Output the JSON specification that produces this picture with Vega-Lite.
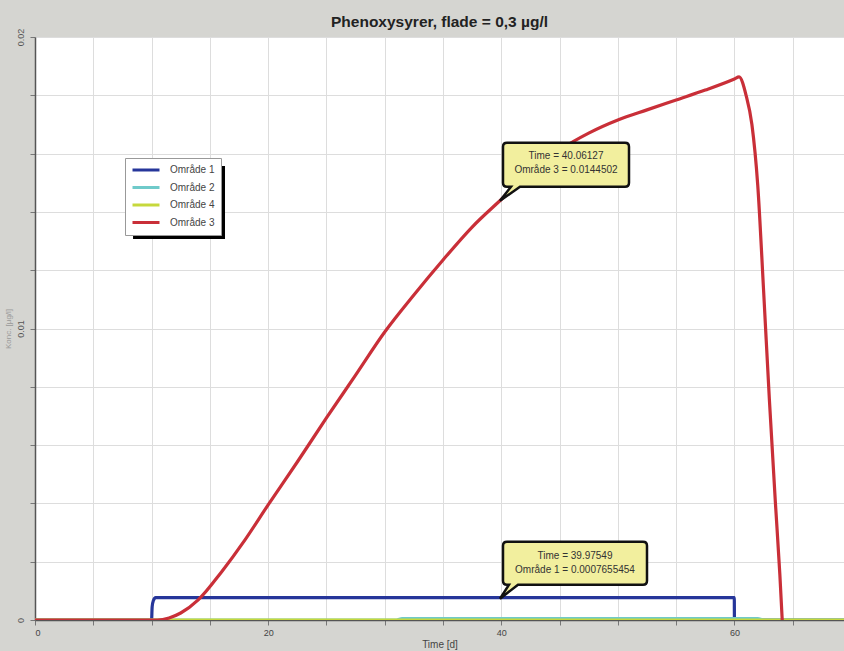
{
  "$schema": "https://vega.github.io/schema/vega-lite/v6.json",
  "width": 809,
  "height": 583,
  "autosize": {"type": "none"},
  "padding": {"left": 35, "top": 37, "right": 0, "bottom": 31},
  "background": "#d5d5d1",
  "title": {
    "text": "Phenoxysyrer, flade = 0,3 µg/l",
    "font": "Liberation Sans",
    "fontSize": 15.5,
    "fontWeight": "bold",
    "color": "#222222",
    "anchor": "middle",
    "baseline": "bottom",
    "offset": -17
  },
  "config": {
    "view": {"fill": "white", "stroke": null},
    "font": "Liberation Sans"
  },
  "datasets": {
    "series": [
      {"serie": "Område 1", "t": 0, "v": 0},
      {"serie": "Område 1", "t": 10.0, "v": 0},
      {"serie": "Område 1", "t": 10.05, "v": 0.00045},
      {"serie": "Område 1", "t": 10.15, "v": 0.00066},
      {"serie": "Område 1", "t": 10.35, "v": 0.000766},
      {"serie": "Område 1", "t": 39.97549, "v": 0.0007655454},
      {"serie": "Område 1", "t": 59.99, "v": 0.000766},
      {"serie": "Område 1", "t": 60.0, "v": 0},
      {"serie": "Område 1", "t": 69.4, "v": 0},
      {"serie": "Område 2", "t": 0, "v": 0},
      {"serie": "Område 2", "t": 31, "v": 0},
      {"serie": "Område 2", "t": 31.5, "v": 0.00005},
      {"serie": "Område 2", "t": 62, "v": 0.00005},
      {"serie": "Område 2", "t": 62.5, "v": 0},
      {"serie": "Område 2", "t": 69.4, "v": 0},
      {"serie": "Område 4", "t": 0, "v": 0},
      {"serie": "Område 4", "t": 69.4, "v": 0},
      {"serie": "Område 3", "t": 0, "v": 0},
      {"serie": "Område 3", "t": 10.5, "v": 0},
      {"serie": "Område 3", "t": 11.5, "v": 0.00007},
      {"serie": "Område 3", "t": 12.5, "v": 0.00024},
      {"serie": "Område 3", "t": 14, "v": 0.00069},
      {"serie": "Område 3", "t": 16, "v": 0.00165},
      {"serie": "Område 3", "t": 18, "v": 0.00274},
      {"serie": "Område 3", "t": 20, "v": 0.00395},
      {"serie": "Område 3", "t": 22.5, "v": 0.00542},
      {"serie": "Område 3", "t": 25, "v": 0.00693},
      {"serie": "Område 3", "t": 27.5, "v": 0.0084},
      {"serie": "Område 3", "t": 30, "v": 0.00988},
      {"serie": "Område 3", "t": 32.5, "v": 0.01115},
      {"serie": "Område 3", "t": 35, "v": 0.01235},
      {"serie": "Område 3", "t": 37.5, "v": 0.01348},
      {"serie": "Område 3", "t": 40.06127, "v": 0.0144502},
      {"serie": "Område 3", "t": 42.5, "v": 0.01537},
      {"serie": "Område 3", "t": 45, "v": 0.01612},
      {"serie": "Område 3", "t": 47.5, "v": 0.0167},
      {"serie": "Område 3", "t": 50, "v": 0.01715},
      {"serie": "Område 3", "t": 52.5, "v": 0.0175},
      {"serie": "Område 3", "t": 55, "v": 0.01784},
      {"serie": "Område 3", "t": 57.5, "v": 0.01818},
      {"serie": "Område 3", "t": 60, "v": 0.01856},
      {"serie": "Område 3", "t": 60.4, "v": 0.01863},
      {"serie": "Område 3", "t": 61, "v": 0.018},
      {"serie": "Område 3", "t": 61.5, "v": 0.017},
      {"serie": "Område 3", "t": 62, "v": 0.01492},
      {"serie": "Område 3", "t": 62.5, "v": 0.01132},
      {"serie": "Område 3", "t": 63, "v": 0.00755},
      {"serie": "Område 3", "t": 63.5, "v": 0.00412},
      {"serie": "Område 3", "t": 63.9, "v": 0.00154},
      {"serie": "Område 3", "t": 64.1, "v": 0}
    ],
    "callouts": [
      {"serie": "Område 3", "t": 40.06127, "v": 0.0144502},
      {"serie": "Område 1", "t": 39.97549, "v": 0.0007655454}
    ]
  },
  "layer": [
    {
      "description": "drop shadow behind the legend box",
      "data": {"values": [{}]},
      "mark": {"type": "rect", "color": "#000000", "opacity": 1},
      "encoding": {
        "x": {"datum": 8.41, "type": "quantitative"},
        "x2": {"datum": 16.3},
        "y": {"datum": 0.015575, "type": "quantitative"},
        "y2": {"datum": 0.01307}
      }
    },
    {
      "data": {"name": "series"},
      "mark": {"type": "line", "strokeWidth": 3.2, "interpolate": "monotone", "clip": true},
      "encoding": {
        "x": {
          "field": "t",
          "type": "quantitative",
          "scale": {"domain": [0, 69.4], "nice": false, "zero": false},
          "axis": {
            "title": "Time [d]",
            "titleFontSize": 10,
            "titleFontWeight": "normal",
            "titleColor": "#444444",
            "titlePadding": 2,
            "values": [0, 5, 10, 15, 20, 25, 30, 35, 40, 45, 50, 55, 60, 65],
            "labelExpr": "datum.value % 20 == 0 ? datum.label : ''",
            "labelFontSize": 9,
            "labelColor": "#444444",
            "labelPadding": 3,
            "tickSize": 5,
            "tickColor": "#777777",
            "domainColor": "#555555",
            "domainWidth": 1.5,
            "grid": true,
            "gridColor": "#dddddd"
          }
        },
        "y": {
          "field": "v",
          "type": "quantitative",
          "scale": {"domain": [0, 0.02], "nice": false},
          "axis": {
            "title": "Konc. [µg/l]",
            "titleFontSize": 8,
            "titleFontWeight": "normal",
            "titleColor": "#999999",
            "titlePadding": 4,
            "values": [0, 0.002, 0.004, 0.006, 0.008, 0.01, 0.012, 0.014, 0.016, 0.018, 0.02],
            "labelExpr": "indexof([0, 5, 10], round(datum.value * 500)) >= 0 ? format(datum.value, '') : ''",
            "labelAngle": -90,
            "labelAlign": "center",
            "labelBaseline": "bottom",
            "labelFontSize": 9,
            "labelColor": "#555555",
            "labelPadding": 5,
            "tickSize": 5,
            "tickColor": "#777777",
            "domainColor": "#555555",
            "domainWidth": 1.5,
            "grid": true,
            "gridColor": "#dddddd"
          }
        },
        "color": {
          "field": "serie",
          "type": "nominal",
          "scale": {
            "domain": ["Område 1", "Område 2", "Område 4", "Område 3"],
            "range": ["#26369a", "#6fcaca", "#c6d83c", "#c92f38"]
          },
          "legend": {
            "title": null,
            "orient": "none",
            "legendX": 90,
            "legendY": 121,
            "fillColor": "#ffffff",
            "strokeColor": "#999999",
            "padding": 6,
            "symbolType": "M -1 0 L 5 0",
            "symbolSize": 81,
            "symbolStrokeWidth": 3,
            "labelFontSize": 10,
            "labelColor": "#444444",
            "labelOffset": 27,
            "rowPadding": 5.5
          }
        },
        "detail": {"field": "serie"}
      }
    },
    {
      "data": {"name": "callouts"},
      "transform": [{"filter": "datum.serie == 'Område 3'"}],
      "layer": [
        {
          "mark": {
            "type": "point",
            "shape": "M 5 -56 L 123 -56 Q 127 -56 127 -52 L 127 -16 Q 127 -12 123 -12 L 18 -12 L -2 2 L 9 -12 L 5 -12 Q 1 -12 1 -16 L 1 -52 Q 1 -56 5 -56 Z",
            "size": 4,
            "filled": true,
            "fill": "#f2ef9e",
            "stroke": "#111111",
            "strokeWidth": 2.5,
            "fillOpacity": 1,
            "strokeOpacity": 1,
            "clip": false
          },
          "encoding": {
            "x": {"field": "t", "type": "quantitative"},
            "y": {"field": "v", "type": "quantitative"}
          }
        },
        {
          "transform": [{"calculate": "'Time = ' + datum.t", "as": "line1"}],
          "mark": {"type": "text", "dx": 64, "dy": -43, "fontSize": 10, "color": "#333333", "align": "center", "baseline": "middle"},
          "encoding": {
            "x": {"field": "t", "type": "quantitative"},
            "y": {"field": "v", "type": "quantitative"},
            "text": {"field": "line1"}
          }
        },
        {
          "transform": [{"calculate": "datum.serie + ' = ' + datum.v", "as": "line2"}],
          "mark": {"type": "text", "dx": 64, "dy": -29, "fontSize": 10, "color": "#333333", "align": "center", "baseline": "middle"},
          "encoding": {
            "x": {"field": "t", "type": "quantitative"},
            "y": {"field": "v", "type": "quantitative"},
            "text": {"field": "line2"}
          }
        }
      ]
    },
    {
      "data": {"name": "callouts"},
      "transform": [{"filter": "datum.serie == 'Område 1'"}],
      "layer": [
        {
          "mark": {
            "type": "point",
            "shape": "M 6 -56 L 142 -56 Q 146 -56 146 -52 L 146 -17 Q 146 -13 142 -13 L 17 -13 L -1 1 L 8 -13 L 6 -13 Q 2 -13 2 -17 L 2 -52 Q 2 -56 6 -56 Z",
            "size": 4,
            "filled": true,
            "fill": "#f2ef9e",
            "stroke": "#111111",
            "strokeWidth": 2.5,
            "fillOpacity": 1,
            "strokeOpacity": 1,
            "clip": false
          },
          "encoding": {
            "x": {"field": "t", "type": "quantitative"},
            "y": {"field": "v", "type": "quantitative"}
          }
        },
        {
          "transform": [{"calculate": "'Time = ' + datum.t", "as": "line1"}],
          "mark": {"type": "text", "dx": 74, "dy": -42, "fontSize": 10, "color": "#333333", "align": "center", "baseline": "middle"},
          "encoding": {
            "x": {"field": "t", "type": "quantitative"},
            "y": {"field": "v", "type": "quantitative"},
            "text": {"field": "line1"}
          }
        },
        {
          "transform": [{"calculate": "datum.serie + ' = ' + datum.v", "as": "line2"}],
          "mark": {"type": "text", "dx": 74, "dy": -28, "fontSize": 10, "color": "#333333", "align": "center", "baseline": "middle"},
          "encoding": {
            "x": {"field": "t", "type": "quantitative"},
            "y": {"field": "v", "type": "quantitative"},
            "text": {"field": "line2"}
          }
        }
      ]
    }
  ]
}
